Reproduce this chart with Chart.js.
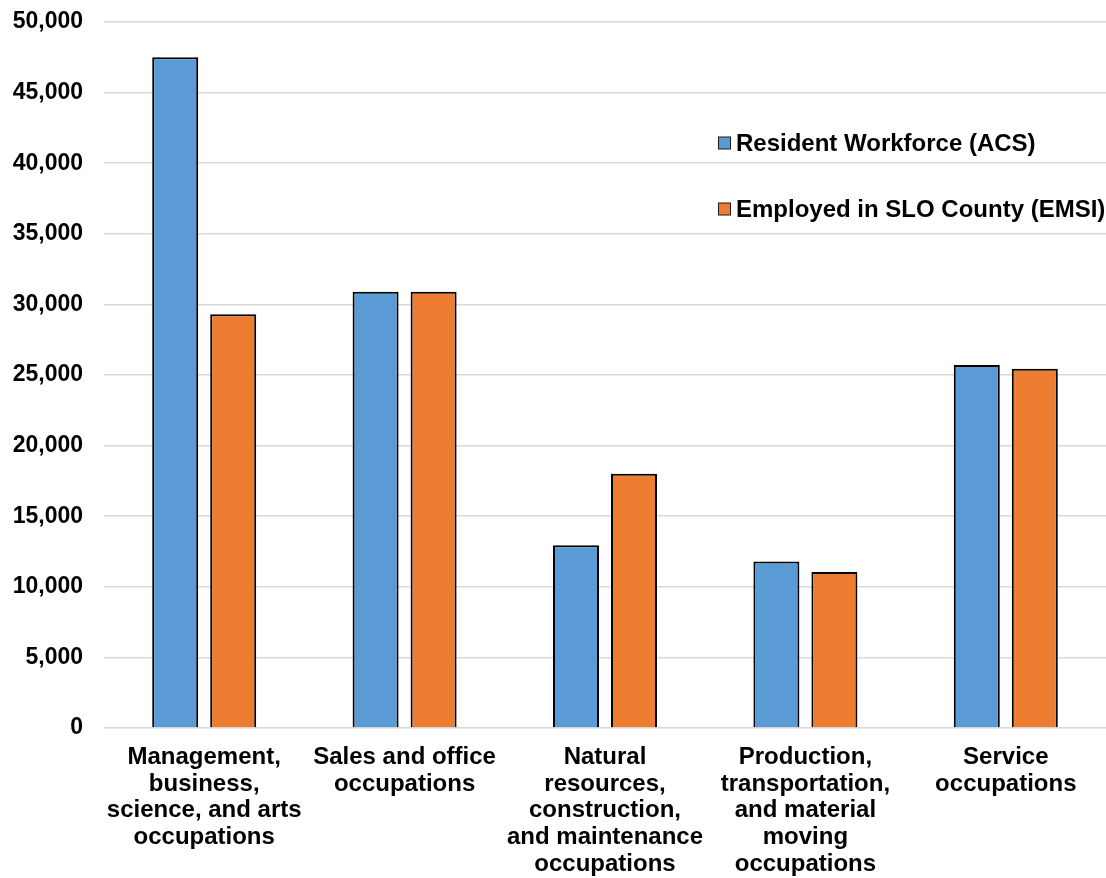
<!DOCTYPE html>
<html>
<head>
<meta charset="utf-8">
<title>Occupations: Resident Workforce vs. Employed in SLO County</title>
<script src="https://cdn.jsdelivr.net/npm/chart.js@4.4.1/dist/chart.umd.min.js"></script>
<style>
  html, body { margin: 0; padding: 0; background: #ffffff; }
  #wrap { position: relative; width: 1106px; height: 878px; }
</style>
</head>
<body>
<div id="wrap"><canvas id="chart" width="1106" height="878"></canvas></div>
<script>
// Occupation groups (multi-line category labels)
const categories = [
  ["Management,", "business,", "science, and arts", "occupations"],
  ["Sales and office", "occupations"],
  ["Natural", "resources,", "construction,", "and maintenance", "occupations"],
  ["Production,", "transportation,", "and material", "moving", "occupations"],
  ["Service", "occupations"]
];

const seriesNames = ["Resident Workforce (ACS)", "Employed in SLO County (EMSI)"];
const residentWorkforce = [47500, 30900, 12950, 11800, 25700];
const employedInCounty  = [29300, 30900, 18000, 11050, 25450];

const yTickValues = [0, 5000, 10000, 15000, 20000, 25000, 30000, 35000, 40000, 45000, 50000];

const FONT = "'Liberation Sans', Arial, Helvetica, sans-serif";
const BLUE = "#5B9BD5";
const ORANGE = "#ED7D31";

// Legend drawn inside the plot area, upper right
const insideLegend = {
  id: "insideLegend",
  afterDraw(chart) {
    const ctx = chart.ctx;
    const rows = [143, 209];
    ctx.save();
    ctx.font = "bold 24px " + FONT;
    ctx.textBaseline = "middle";
    ctx.textAlign = "left";
    chart.data.datasets.forEach((ds, i) => {
      const y = rows[i];
      ctx.fillStyle = ds.backgroundColor;
      ctx.fillRect(718.5, y - 6, 12, 12);
      ctx.lineWidth = 1;
      ctx.strokeStyle = "#1a1a1a";
      ctx.strokeRect(718.5, y - 6, 12, 12);
      ctx.fillStyle = "#000000";
      ctx.fillText(ds.label, 736, y + 1);
    });
    ctx.restore();
  }
};

new Chart(document.getElementById("chart"), {
  type: "bar",
  data: {
    labels: categories,
    datasets: [
      {
        label: seriesNames[0],
        data: residentWorkforce,
        backgroundColor: BLUE,
        borderColor: "#000000",
        borderWidth: 2,
        categoryPercentage: 0.579,
        barPercentage: 0.793
      },
      {
        label: seriesNames[1],
        data: employedInCounty,
        backgroundColor: ORANGE,
        borderColor: "#000000",
        borderWidth: 2,
        categoryPercentage: 0.579,
        barPercentage: 0.793
      }
    ]
  },
  options: {
    responsive: false,
    animation: false,
    devicePixelRatio: 1,
    layout: { padding: { top: 22, right: 0, bottom: 0, left: 0 } },
    plugins: {
      legend: { display: false },
      tooltip: { enabled: false }
    },
    scales: {
      x: {
        grid: { display: false, drawTicks: false },
        border: { display: false },
        ticks: {
          color: "#000000",
          font: { family: FONT, size: 24, weight: "bold", lineHeight: 1.11 },
          padding: 16,
          maxRotation: 0,
          autoSkip: false
        },
        afterFit(scale) { scale.height = 150; }
      },
      y: {
        min: 0,
        max: 50000,
        afterBuildTicks(scale) {
          scale.ticks = yTickValues.map(v => ({ value: v }));
        },
        // invisible tick marks keep the labels clear of the plot edge
        grid: {
          color: "#d9d9d9",
          lineWidth: 1.5,
          drawTicks: true,
          tickLength: 21,
          tickColor: "rgba(0,0,0,0)"
        },
        border: { display: false },
        ticks: {
          color: "#000000",
          font: { family: FONT, size: 23, weight: "bold" },
          padding: 0,
          callback: v => v.toLocaleString("en-US")
        },
        afterFit(scale) { scale.width = 104; }
      }
    }
  },
  plugins: [insideLegend]
});
</script>
</body>
</html>
